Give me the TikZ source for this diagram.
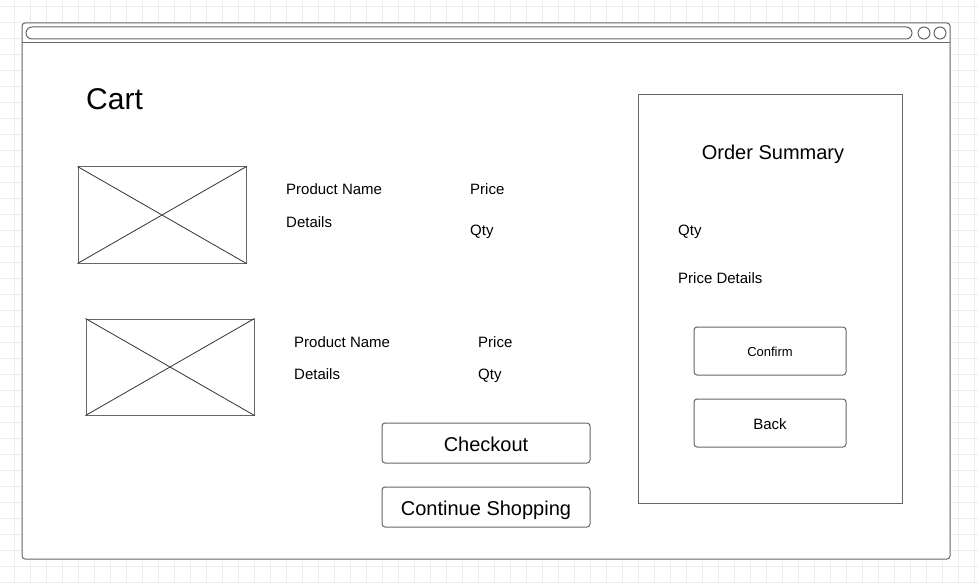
\documentclass[tikz,border=0pt]{standalone}
\usepackage{fontspec}
\setmainfont{Liberation Sans}
\definecolor{gridc}{HTML}{EDEDED}
\definecolor{strk}{HTML}{666666}
\definecolor{crossc}{HTML}{333333}
\tikzset{
  box/.style={draw=strk, line width=1pt, fill=white, inner sep=0pt},
  btn/.style={draw=strk, line width=1pt, rounded corners=3pt, inner sep=0pt},
  imgbox/.style={box, minimum width=168pt, minimum height=96pt},
  crossln/.style={draw=crossc, line width=0.8pt},
  lbl/.style={inner sep=0pt, font=\fontsize{15}{18}\selectfont},
  big/.style={inner sep=0pt, font=\fontsize{20}{24}\selectfont},
  small/.style={inner sep=0pt, font=\fontsize{13}{16}\selectfont},
}
\begin{document}
\begin{tikzpicture}[x=1pt,y=-1pt]
\useasboundingbox (0,0) rectangle (978,583);
\fill[white] (0,0) rectangle (978,583);
% grid
\foreach \x in {14.5,30.5,...,978} \draw[gridc, line width=1pt] (\x,0) -- (\x,583);
\foreach \y in {6.5,22.5,...,583} \draw[gridc, line width=1pt] (0,\y) -- (978,\y);
% window
\node[box, rounded corners=3pt, minimum width=928pt, minimum height=536pt] (win) at (486,291) {};
\coordinate (tl) at (22,43);
\coordinate (tr) at (950,43);
\draw[strk, line width=1pt] (tl) -- (tr);
\node[draw=strk, line width=1pt, rounded corners=6pt, minimum width=886pt, minimum height=12pt, inner sep=0pt] (addr) at (469,33) {};
\node[draw=strk, line width=1pt, circle, minimum size=12pt, inner sep=0pt] (c1) at (924,33) {};
\node[draw=strk, line width=1pt, circle, minimum size=12pt, inner sep=0pt] (c2) at (940,33) {};
% title
\node[inner sep=0pt, anchor=base west, font=\fontsize{30}{36}\selectfont] (cart) at (86,110) {Cart};
% item 1
\node[imgbox] (img1) at (162,215) {};
\draw[crossln] (img1.north west) -- (img1.south east);
\draw[crossln] (img1.south west) -- (img1.north east);
\node[lbl, anchor=base west] (pn1) at (286,195) {Product Name};
\node[lbl, anchor=base west] (dt1) at (286,227) {Details};
\node[lbl, anchor=base west] (pr1) at (470,195) {Price};
\node[lbl, anchor=base west] (qt1) at (470,235) {Qty};
% item 2
\node[imgbox] (img2) at (170,367) {};
\draw[crossln] (img2.north west) -- (img2.south east);
\draw[crossln] (img2.south west) -- (img2.north east);
\node[lbl, anchor=base west] (pn2) at (294,347) {Product Name};
\node[lbl, anchor=base west] (dt2) at (294,379) {Details};
\node[lbl, anchor=base west] (pr2) at (478,347) {Price};
\node[lbl, anchor=base west] (qt2) at (478,379) {Qty};
% buttons
\node[btn, minimum width=208pt, minimum height=40pt] (chk) at (486,443) {};
\node[big, anchor=base] (chkt) at (486,451) {Checkout};
\node[btn, minimum width=208pt, minimum height=40pt] (cont) at (486,507) {};
\node[big, anchor=base] (contt) at (486,515) {Continue Shopping};
% order summary
\node[box, minimum width=264pt, minimum height=408pt] (sum) at (770,299) {};
\node[big, anchor=base] (sumt) at (773,160) {Order Summary};
\node[lbl, anchor=base west] (sq) at (678,235) {Qty};
\node[lbl, anchor=base west] (sp) at (678,283) {Price Details};
\node[btn, minimum width=152pt, minimum height=48pt] (conf) at (770,351) {};
\node[small, anchor=base] (conft) at (770,356) {Confirm};
\node[btn, minimum width=152pt, minimum height=48pt] (back) at (770,423) {};
\node[lbl, anchor=base] (backt) at (770,429) {Back};
\end{tikzpicture}
\end{document}
